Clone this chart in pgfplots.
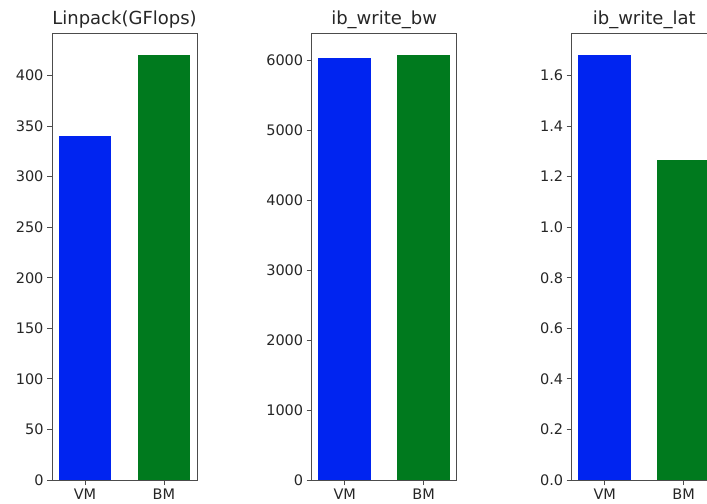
\documentclass[border=0pt]{standalone}
\usepackage{fontspec}
\setmainfont{DejaVu Sans}
\usepackage{pgfplots}
\pgfplotsset{compat=1.18}
\definecolor{mblue}{RGB}{0,36,240}
\definecolor{mgreen}{RGB}{0,122,30}
\pgfplotsset{
 mystyle/.style={
  scale only axis, width=145bp, height=446bp, anchor=south west,
  xmin=-0.4185, xmax=1.4185, ymin=0,
  xtick={0,1}, xticklabels={VM,BM},
  tick align=outside, tick pos=left, major tick length=5bp,
  axis line style={black!70, line width=1bp},
  every tick/.style={black!70, line width=0.8bp},
  tick label style={font=\fontsize{14.5bp}{16bp}\selectfont, text=black!85},
  title style={font=\fontsize{18bp}{20bp}\selectfont, text=black!85, yshift=-4bp},
  /pgf/number format/assume math mode=true,
  scaled y ticks=false,
  /pgf/number format/1000 sep={},
 },
 mybar/.style={ybar, bar width=0.67, bar shift=0pt, draw=none, fill=#1},
}
\begin{document}
\begin{tikzpicture}
\begin{scope}
\clip (0,0) rectangle (707bp,504bp);
\begin{axis}[mystyle, at={(52bp,24bp)}, ymax=441, ytick={0,50,...,400}, title={Linpack(GFlops)}]
\addplot[mybar=mblue] coordinates {(0,340)};
\addplot[mybar=mgreen] coordinates {(1,420)};
\end{axis}
\begin{axis}[mystyle, at={(311.7bp,24bp)}, ymax=6379, ytick={0,1000,...,6000}, title={ib\_write\_bw}]
\addplot[mybar=mblue] coordinates {(0,6030)};
\addplot[mybar=mgreen] coordinates {(1,6075)};
\end{axis}
\begin{axis}[mystyle, at={(571.7bp,24bp)}, ymax=1.764, ytick={0,0.2,...,1.61}, title={ib\_write\_lat},
  yticklabel style={/pgf/number format/.cd, fixed, fixed zerofill, precision=1}]
\addplot[mybar=mblue] coordinates {(0,1.68)};
\addplot[mybar=mgreen] coordinates {(1,1.267)};
\end{axis}
\end{scope}
\pgfresetboundingbox
\path (0,0) rectangle (707bp,504bp);
\end{tikzpicture}
\end{document}
